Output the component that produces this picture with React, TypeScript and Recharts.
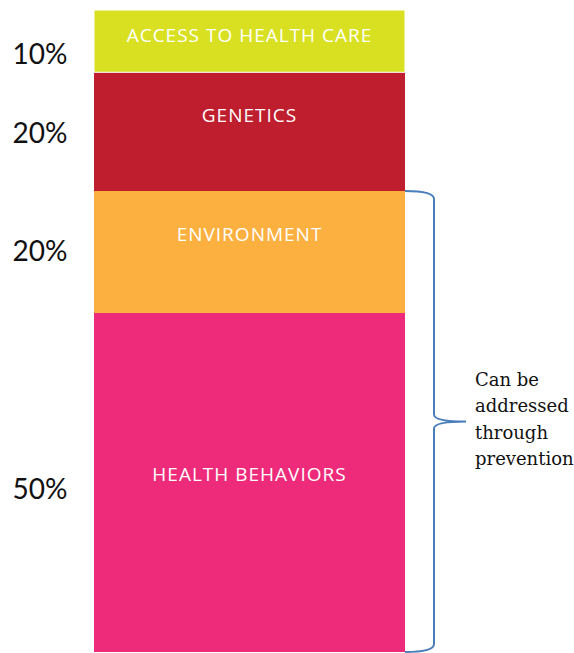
import React from 'react';
import { BarChart, Bar, XAxis, YAxis, LabelList } from 'recharts';

// bottom to top
const categories = ['Health factors'];
const segmentKeys = ['behaviors', 'environment', 'genetics', 'access'];
const segmentNames = ['HEALTH BEHAVIORS', 'ENVIRONMENT', 'GENETICS', 'ACCESS TO HEALTH CARE'];
const segmentShares = [52.8, 19.0, 18.5, 9.7];
const percentLabels = ['50%', '20%', '20%', '10%'];
const segmentColors = ['#ee2a7b', '#fbb040', '#be1e2d', '#d9e021'];
const braceNote = ['Can be', 'addressed', 'through', 'prevention'];

// label nudges from segment centre (px)
const nameShift = [-9, -18, -17, -6];
const pctShift = [5, -2, 0, 12];

const data = categories.map((name) => {
  const row: Record<string, any> = { name };
  segmentKeys.forEach((k, i) => { row[k] = segmentShares[i]; });
  return row;
});

const makeSegmentLabel = (i: number) => (props: any) => {
  const { x, y, width, height } = props;
  const cy = y + height / 2;
  return (
    <g>
      <text x={x + width / 2} y={cy + nameShift[i]} fill="#fff" fontSize={19} letterSpacing={1}
        fontFamily="'Open Sans', sans-serif" textAnchor="middle" dominantBaseline="central">
        {segmentNames[i]}
      </text>
      <text x={40} y={cy + pctShift[i]} fill="#111" fontSize={28}
        fontFamily="Lato, sans-serif" textAnchor="middle" dominantBaseline="central">
        {percentLabels[i]}
      </text>
    </g>
  );
};

// brace over environment + behaviors, drawn from the environment segment
const renderBrace = (props: any) => {
  const { x, y, width, height, value } = props;
  const perUnit = height / value;
  const top = y;
  const bottom = y + perUnit * (segmentShares[0] + segmentShares[1]);
  const x0 = x + width;
  const xs = x0 + 29;
  const tip = x0 + 61;
  const mid = (top + bottom) / 2;
  const d = `M${x0},${top} Q${xs},${top} ${xs},${top + 8} L${xs},${mid - 7} Q${xs},${mid} ${tip},${mid} ` +
    `Q${xs},${mid} ${xs},${mid + 7} L${xs},${bottom - 8} Q${xs},${bottom} ${x0},${bottom}`;
  return (
    <g>
      <path d={d} fill="none" stroke="#4a7ebb" strokeWidth={2} />
      {braceNote.map((line, j) => (
        <text key={j} x={tip + 9} y={mid - 36 + j * 26.5} fill="#111" fontSize={18}
          fontFamily="'DejaVu Serif', serif">
          {line}
        </text>
      ))}
    </g>
  );
};

export default function App() {
  return (
    <div style={{ position: 'absolute', left: 0, top: 0, width: 574, height: 653, background: '#fff' }}>
      <BarChart width={574} height={653} data={data}
        margin={{ top: 10, right: 169, left: 94, bottom: 1 }} barCategoryGap={0}>
        <XAxis dataKey="name" hide />
        <YAxis type="number" domain={[0, 100]} hide />
        {segmentKeys.map((k, i) => (
          <Bar key={k} dataKey={k} stackId="a" fill={segmentColors[i]} isAnimationActive={false}
            stroke={k === 'access' ? '#fff' : undefined} strokeWidth={k === 'access' ? 1 : 0}>
            <LabelList dataKey={k} content={makeSegmentLabel(i)} />
            {k === 'environment' && <LabelList dataKey={k} content={renderBrace} />}
          </Bar>
        ))}
      </BarChart>
    </div>
  );
}
